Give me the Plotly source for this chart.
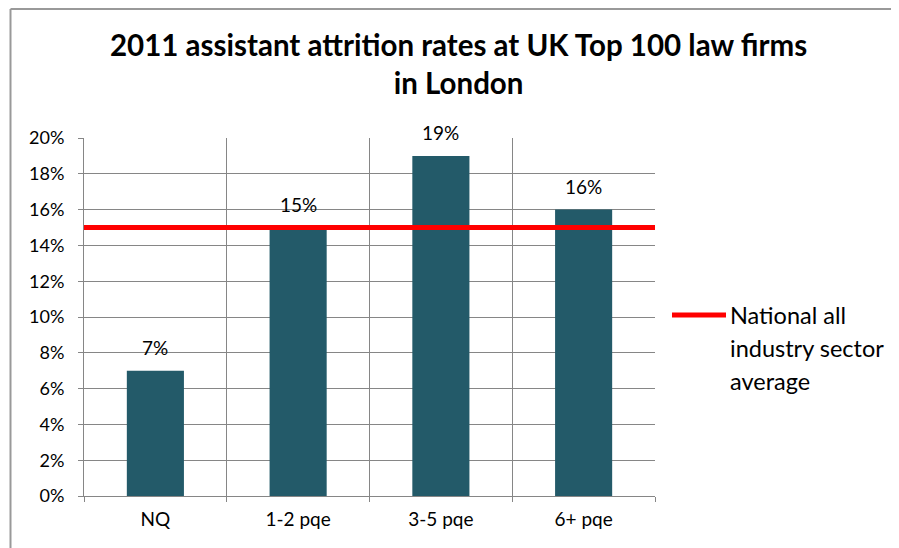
import plotly.graph_objects as go

categories = ["NQ", "1-2 pqe", "3-5 pqe", "6+ pqe"]
attrition = [7, 15, 19, 16]
national_avg = 15
avg_label_lines = ["National all", "industry sector", "average"]
title = "2011 assistant attrition rates at UK Top 100 law firms<br>in London"
y_ticks = [0, 2, 4, 6, 8, 10, 12, 14, 16, 18, 20]

FONT = "Lato"
W, H = 899, 548
OFF = 8  # page offset of the figure (body margin)
# plot area in page pixels: x 84..655, y 138..496
L, R, T, B = 84 - OFF, W - (655 - OFF), 138 - OFF, H - (496 - OFF)
pw, ph = W - L - R, H - T - B


def px_x(x):  # page px -> paper
    return (x - OFF - L) / pw


def px_y(y):
    return (H - B - (y - OFF)) / ph


fig = go.Figure()
fig.add_trace(go.Bar(
    x=categories, y=attrition, marker=dict(color="#235A69", line=dict(width=0)),
    width=0.4, showlegend=False, hoverinfo="x+y",
))
fig.add_trace(go.Scatter(
    x=[0, 1], y=[national_avg, national_avg], xaxis="x2", yaxis="y",
    mode="lines", line=dict(color="#FF0000", width=5),
    name=" ".join(avg_label_lines), showlegend=False,
))

for c, v in zip(categories, attrition):
    fig.add_annotation(x=c, y=v, text=f"{v}%", showarrow=False,
                       yanchor="middle", yshift=23,
                       font=dict(family=FONT, size=19, color="#000000"))

# legend (custom)
fig.add_shape(type="line", xref="paper", yref="paper",
              x0=px_x(672), x1=px_x(726), y0=px_y(315), y1=px_y(315),
              line=dict(color="#FF0000", width=5))
for i, line in enumerate(avg_label_lines):
    fig.add_annotation(xref="paper", yref="paper", x=px_x(728), y=px_y(315 + 33 * i),
                       text=line, showarrow=False, xanchor="left", yanchor="middle",
                       font=dict(family=FONT, size=23.5, color="#000000"))

# title
fig.add_annotation(xref="paper", yref="paper", x=px_x(458), y=px_y(63.5),
                   text=f"<b>{title}</b>", showarrow=False, xanchor="center",
                   yanchor="middle",
                   font=dict(family=FONT, size=29.5, color="#000000"))

# chart frame (top and left edges visible)
frame = dict(color="#999999", width=2)
fig.add_shape(type="line", xref="paper", yref="paper",
              x0=px_x(10.5), x1=px_x(1000), y0=px_y(OFF + 1), y1=px_y(OFF + 1),
              line=frame, layer="below")
fig.add_shape(type="line", xref="paper", yref="paper",
              x0=px_x(10.5), x1=px_x(10.5), y0=px_y(OFF + 1), y1=px_y(700),
              line=frame, layer="below")

axis_common = dict(ticks="outside", ticklen=5, tickcolor="#868686",
                   showgrid=True, gridcolor="#868686", gridwidth=1,
                   showline=True, linecolor="#868686", linewidth=1,
                   automargin=False)

fig.update_layout(
    width=W, height=H,
    margin=dict(l=L, r=R, t=T, b=B, autoexpand=False),
    paper_bgcolor="white", plot_bgcolor="white",
    font=dict(family=FONT, size=19, color="#000000"),
    xaxis=dict(type="category", tickson="boundaries", range=[-0.5, 3.5],
               ticklabelstandoff=6,
               tickfont=dict(family=FONT, size=19), **axis_common),
    xaxis2=dict(overlaying="x", range=[0, 1], visible=False),
    yaxis=dict(range=[0, 20], tickvals=y_ticks,
               ticktext=[f"{v}%" for v in y_ticks], zeroline=False,
               ticklabelstandoff=10,
               tickfont=dict(family=FONT, size=18), **axis_common),
    showlegend=False,
    bargap=0.6,
)

fig.write_html("out.html")
